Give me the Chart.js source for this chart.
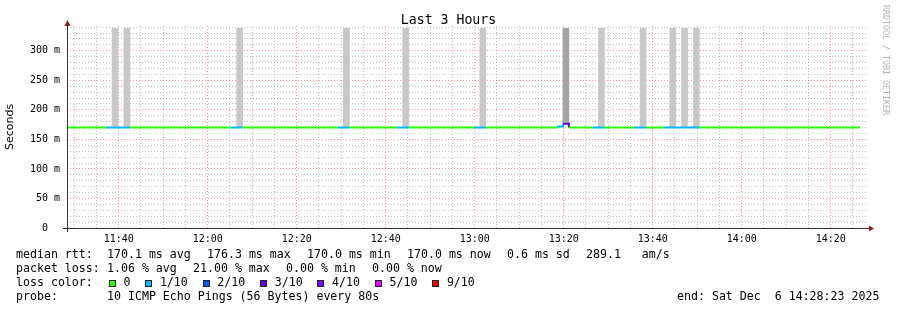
<!DOCTYPE html>
<html>
<head>
<meta charset="utf-8">
<script src="https://cdn.jsdelivr.net/npm/chart.js@4.4.0/dist/chart.umd.min.js"></script>
<style>
  body { margin: 0; background: #fff; }
  #wrap { position: relative; width: 897px; height: 310px; font-family: 'DejaVu Sans Mono', monospace; color: #000; overflow: hidden; }
  #wrap canvas { position: absolute; left: 0; top: 0; }
  .t { position: absolute; white-space: pre; font-size: 11.6px; line-height: 14px; }
  .sq { display: inline-block; width: 5px; height: 5px; border: 1px solid #222; vertical-align: -0.5px; }
  #title { position: absolute; left: 0; width: 897px; top: 12px; text-align: center; font-size: 13.2px; line-height: 16px; }
  #mark { position: absolute; left: 881px; top: 5px; writing-mode: vertical-rl; font-size: 8.3px; line-height: 10px; color: #b4b4b4; white-space: pre; }
</style>
</head>
<body>
<div id="wrap">
  <canvas id="smoke" width="897" height="310"></canvas>
  <div id="title">Last 3 Hours</div>
  <div id="mark">RRDTOOL / TOBI OETIKER</div>
  <div id="legend"></div>
</div>
<script>
// time window of the graph
const startTime = '11:28:23'
const endTime = '14:28:23'
const stepSec = 80

// x tick labels (every 20 min)
const xTickTimes = ['11:40', '12:00', '12:20', '12:40', '13:00', '13:20', '13:40', '14:00', '14:20']
// y tick labels
const yTickValues = [0, 50, 100, 150, 200, 250, 300]
const yTickLabels = ['0  ', '50 m', '100 m', '150 m', '200 m', '250 m', '300 m']
const yMax = 342

// loss colour legend
const lossSteps = [0, 1, 2, 3, 4, 5, 9]
const lossLabels = ['0', '1/10', '2/10', '3/10', '4/10', '5/10', '9/10']
const lossColors = ['#26ff00', '#00b8ff', '#0059ff', '#5e00ff', '#7e00ff', '#dd00ff', '#ff0000']

// median rtt runs: start of run, rtt in ms, lost pings (of 10); last entry closes the line
const runStart = ['11:28:23', '11:37:10', '11:42:30', '12:05:10', '12:07:50', '12:29:10', '12:31:50',
  '12:42:30', '12:45:10', '12:59:50', '13:02:30', '13:18:30', '13:19:50', '13:21:10', '13:26:30',
  '13:29:10', '13:35:50', '13:38:30', '13:42:30', '13:50:30', '14:26:30']
const runRtt = [170.1, 170.1, 170.1, 170.1, 170.1, 170.1, 170.1,
  170.1, 170.1, 170.1, 170.1, 172.0, 176.3, 170.1, 170.1,
  170.1, 170.1, 170.1, 170.1, 170.1, 170.0]
const runLoss = [0, 1, 0, 1, 0, 1, 0,
  1, 0, 1, 0, 1, 3, 0, 1,
  0, 1, 0, 1, 0, 0]

// smoke (ping spread) for single steps
const smokeStart = ['11:38:30', '11:41:10', '12:06:30', '12:30:30', '12:43:50', '13:01:10',
  '13:19:50', '13:27:50', '13:37:10', '13:43:50', '13:46:30', '13:49:10']
const smokeLow = [170.1, 170.1, 170.1, 170.1, 170.1, 170.1, 176.3, 170.1, 170.1, 170.1, 170.1, 170.1]
const smokeHigh = [338, 338, 338, 338, 338, 338, 338, 338, 338, 338, 338, 338]

// legend stats
const rttStatNames = ['avg', 'max', 'min', 'now']
const rttStatValues = [170.1, 176.3, 170.0, 170.0]
const lossStatValues = [1.06, 21.00, 0.00, 0.00]
const rttSd = 0.6
const amPerSec = 289.1
const probeText = '10 ICMP Echo Pings (56 Bytes) every 80s'
const endText = 'end: Sat Dec  6 14:28:23 2025'

const toMin = s => {
  const [h, m, sec] = s.split(':').map(Number)
  return h * 60 + m + (sec || 0) / 60
}
const lossColor = l => lossColors[Math.max(0, lossSteps.indexOf(l))]

const t0 = toMin(startTime)
const t1 = toMin(endTime)
const stepMin = stepSec / 60
const majorX = xTickTimes.map(toMin)
const minorX = []
for (let m = Math.ceil(t0 / 5) * 5; m < t1; m += 5) minorX.push(m)
const minorY = []
for (let v = 0; v < yMax; v += 10) minorY.push(v)

const majorGrid = 'rgba(255, 0, 0, 0.4)'
const minorGrid = 'rgba(120, 120, 120, 0.45)'
const monoFont = 'DejaVu Sans Mono'

// axis lines with arrow heads, rrdtool style
const axisArrows = {
  id: 'axisArrows',
  afterDraw(chart) {
    const { ctx, chartArea: a } = chart
    const x0 = Math.round(a.left) + 0.5
    const y0 = Math.round(a.bottom) + 0.5
    ctx.save()
    ctx.strokeStyle = '#333'
    ctx.lineWidth = 1
    ctx.beginPath()
    ctx.moveTo(x0, a.bottom + 4)
    ctx.lineTo(x0, a.top - 3)
    ctx.moveTo(a.left - 4, y0)
    ctx.lineTo(a.right + 2, y0)
    ctx.stroke()
    ctx.fillStyle = '#8f1f1f'
    ctx.beginPath()
    ctx.moveTo(x0, a.top - 6)
    ctx.lineTo(x0 - 3, a.top)
    ctx.lineTo(x0 + 3, a.top)
    ctx.closePath()
    ctx.fill()
    ctx.beginPath()
    ctx.moveTo(a.right + 6, y0)
    ctx.lineTo(a.right + 1, y0 - 3)
    ctx.lineTo(a.right + 1, y0 + 3)
    ctx.closePath()
    ctx.fill()
    ctx.restore()
  }
}

new Chart(document.getElementById('smoke'), {
  type: 'line',
  plugins: [axisArrows],
  data: {
    datasets: [
      {
        type: 'line',
        label: 'median rtt',
        data: runStart.map((t, i) => ({ x: toMin(t), y: runRtt[i] })),
        stepped: 'before',
        borderWidth: 2,
        borderColor: lossColors[0],
        pointRadius: 0,
        segment: {
          borderColor: c => lossColor(runLoss[c.p0DataIndex])
        },
        order: 1
      },
      {
        type: 'bar',
        label: 'smoke',
        data: smokeStart.map((t, i) => ({ x: toMin(t) + stepMin / 2, y: [smokeLow[i], smokeHigh[i]] })),
        backgroundColor: smokeStart.map(t => {
          const i = runStart.findIndex((s, k) => toMin(t) >= toMin(s) && toMin(t) < toMin(runStart[k + 1]))
          return runLoss[i] >= 3 ? '#a4a4a4' : '#c8c8c8'
        }),
        barThickness: 6,
        order: 2
      }
    ]
  },
  options: {
    responsive: false,
    animation: false,
    devicePixelRatio: 1,
    layout: { padding: { left: 0, right: 29, top: 26, bottom: 0 } },
    plugins: {
      legend: { display: false },
      tooltip: { enabled: false },
      title: { display: false }
    },
    scales: {
      x: {
        type: 'linear',
        min: t0,
        max: t1,
        offset: false,
        afterBuildTicks: s => { s.ticks = minorX.map(v => ({ value: v })) },
        afterFit: s => { s.height = 82 },
        grid: {
          offset: false,
          color: c => (c.tick && majorX.includes(c.tick.value)) ? majorGrid : minorGrid,
          drawTicks: false
        },
        border: { display: false, dash: [1, 2] },
        ticks: {
          autoSkip: false,
          maxRotation: 0,
          padding: 5,
          color: '#000',
          font: { family: monoFont, size: 10 },
          callback: v => {
            const i = majorX.indexOf(v)
            return i >= 0 ? xTickTimes[i] : ''
          }
        }
      },
      y: {
        min: 0,
        max: yMax,
        afterBuildTicks: s => { s.ticks = minorY.map(v => ({ value: v })) },
        afterFit: s => { s.width = 67 },
        grid: {
          color: c => (c.tick && yTickValues.includes(c.tick.value)) ? majorGrid : minorGrid,
          drawTicks: false
        },
        border: { display: false, dash: [1, 2] },
        title: {
          display: true,
          text: 'Seconds',
          color: '#000',
          font: { family: 'DejaVu Sans', size: 11 },
          padding: { top: 4, bottom: 0 }
        },
        ticks: {
          autoSkip: false,
          padding: 7,
          color: '#000',
          font: { family: monoFont, size: 10 },
          callback: v => {
            const i = yTickValues.indexOf(v)
            return i >= 0 ? yTickLabels[i] : ''
          }
        }
      }
    }
  }
})

// legend text below the graph
const legend = document.getElementById('legend')
const charW = 7
const gap = 16
function put(x, y, html) {
  const d = document.createElement('div')
  d.className = 't'
  d.style.left = x + 'px'
  d.style.top = y + 'px'
  d.innerHTML = html
  legend.appendChild(d)
  return d
}
function row(y, label, pieces) {
  put(16, y, label)
  let x = 107
  pieces.forEach(p => {
    put(x, y, p)
    x += p.length * charW + gap
  })
}
const row1 = rttStatValues.map((v, i) => v.toFixed(1) + ' ms ' + rttStatNames[i])
row1.push(rttSd.toFixed(1) + ' ms sd')
row1.push(amPerSec.toFixed(1) + '   am/s')
row(247, 'median rtt:', row1)
row(261, 'packet loss:', lossStatValues.map((v, i) => v.toFixed(2) + ' % ' + rttStatNames[i]))

put(16, 275, 'loss color:')
let lx = 108.7
lossLabels.forEach((l, i) => {
  put(lx, 275, '<span class="sq" style="background:' + lossColors[i] + '"></span>')
  put(lx + 14.8, 275, l)
  lx += 14.8 + l.length * charW + 14.6
})

put(16, 289, 'probe:')
put(107, 289, probeText)
const e = put(0, 289, endText)
e.style.left = (880 - endText.length * charW) + 'px'
</script>
</body>
</html>
